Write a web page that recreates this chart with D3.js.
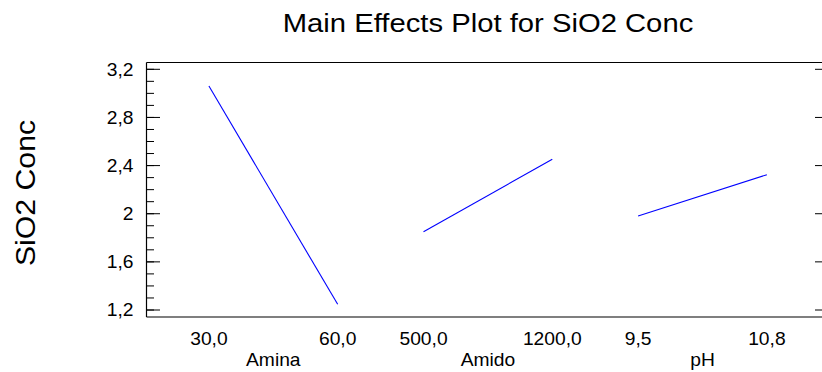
<!DOCTYPE html>
<html>
<head>
<meta charset="utf-8">
<script src="https://cdn.jsdelivr.net/npm/d3@7"></script>
<style>
  html, body { margin: 0; padding: 0; background: #fff; }
  svg { display: block; font-family: "Liberation Sans", Arial, Helvetica, sans-serif; }
</style>
</head>
<body>
<svg id="chart" width="822" height="372"></svg>
<script>
// ---- data ----
const factors = ["Amina", "Amido", "pH"];
const lowLabels = ["30,0", "500,0", "9,5"];
const highLabels = ["60,0", "1200,0", "10,8"];
const lowMeans = [3.061, 1.850, 1.981];
const highMeans = [1.247, 2.452, 2.324];
const yTicks = [1.2, 1.6, 2.0, 2.4, 2.8, 3.2];
const yTickLabels = ["1,2", "1,6", "2", "2,4", "2,8", "3,2"];
const yMinorTicks = d3.range(12, 33).map(v => v / 10);
const title = "Main Effects Plot for SiO2 Conc";
const yTitle = "SiO2 Conc";

// ---- layout ----
const W = 822, H = 372;
const plot = { left: 146.5, right: 822, top: 62.5, bottom: 317 };
const stretch = 1.1;

const svg = d3.select("#chart");

const y = d3.scaleLinear().domain([1.2, 3.2]).range([310, 69.3]);
const x = d3.scaleLinear().domain([0, 2]).range([273.3, 702.5]);
const halfSpan = 0.3;

// frame
svg.append("line").attr("x1", plot.left).attr("x2", plot.right)
  .attr("y1", plot.top).attr("y2", plot.top).attr("stroke", "#000").attr("stroke-width", 1.2);
svg.append("line").attr("x1", plot.left).attr("x2", plot.right)
  .attr("y1", plot.bottom).attr("y2", plot.bottom).attr("stroke", "#000").attr("stroke-width", 1.2);
svg.append("line").attr("x1", plot.left).attr("x2", plot.left)
  .attr("y1", plot.top).attr("y2", plot.bottom).attr("stroke", "#000").attr("stroke-width", 1.2);

// left ticks (inward)
svg.append("g").selectAll("line.minor").data(yMinorTicks).join("line")
  .attr("x1", plot.left).attr("x2", plot.left + 7.5)
  .attr("y1", d => y(d)).attr("y2", d => y(d))
  .attr("stroke", "#000").attr("stroke-width", 1);
svg.append("g").selectAll("line.major").data(yTicks).join("line")
  .attr("x1", plot.left).attr("x2", plot.left + 13.5)
  .attr("y1", d => y(d)).attr("y2", d => y(d))
  .attr("stroke", "#000").attr("stroke-width", 1);
// right ticks
svg.append("g").selectAll("line").data(yTicks).join("line")
  .attr("x1", plot.right - 7).attr("x2", plot.right)
  .attr("y1", d => y(d)).attr("y2", d => y(d))
  .attr("stroke", "#000").attr("stroke-width", 1);

function stext(g, txt, tx, ty, size, anchor, extra, sx) {
  return g.append("text")
    .attr("transform", `translate(${tx},${ty})${extra || ""} scale(${sx || stretch},1)`)
    .attr("text-anchor", anchor)
    .attr("font-size", size)
    .attr("fill", "#000")
    .text(txt);
}

// y tick labels
yTicks.forEach((t, i) => {
  stext(svg, yTickLabels[i], 133.5, y(t) + 6.3, 17.5, "end");
});

// x tick labels and factor names
factors.forEach((f, i) => {
  stext(svg, lowLabels[i], x(i - halfSpan), 345, 17.5, "middle");
  stext(svg, highLabels[i], x(i + halfSpan), 345, 17.5, "middle");
  stext(svg, f, x(i), 366, 17.5, "middle");
});

// lines
const line = d3.line().x(d => x(d[0])).y(d => y(d[1]));
factors.forEach((f, i) => {
  svg.append("path")
    .attr("d", line([[i - halfSpan, lowMeans[i]], [i + halfSpan, highMeans[i]]]))
    .attr("fill", "none").attr("stroke", "#0000ff").attr("stroke-width", 1.1);
});

// titles
stext(svg, title, 488, 32.3, 26, "middle", "", 1.125);
stext(svg, yTitle, 35, 193, 27, "middle", " rotate(-90)", 1.12);
</script>
</body>
</html>
